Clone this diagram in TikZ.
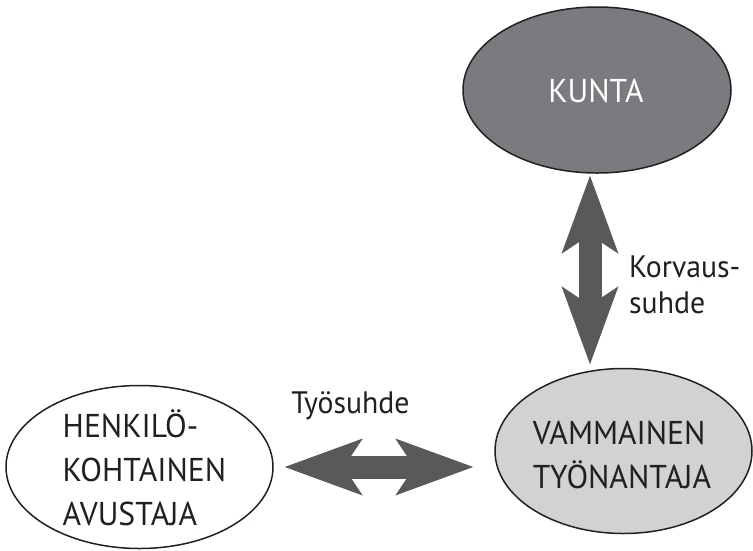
\documentclass[tikz,border=0pt]{standalone}
\usepackage{fontspec}
\setmainfont{PT Sans}[FakeStretch=0.96]
\usetikzlibrary{arrows.meta,shapes.geometric}
\definecolor{kuntafill}{RGB}{122,123,126}
\definecolor{vammfill}{RGB}{209,210,212}
\definecolor{arrowcol}{RGB}{88,89,91}
\definecolor{textcol}{RGB}{35,31,32}
\tikzset{
  oval/.style={ellipse, draw=textcol, line width=1.5pt, inner sep=0pt},
  bigtxt/.style={text=textcol, font=\fontsize{33}{44}\selectfont, align=left, inner sep=0pt},
  lbltxt/.style={text=textcol, font=\fontsize{31}{36}\selectfont, align=left, inner sep=0pt},
  bigarrow/.style={draw=arrowcol, line width=23pt,
    {Stealth[length=78pt,width=57pt,inset=19pt,line width=0pt,fill=arrowcol]}-{Stealth[length=78pt,width=57pt,inset=19pt,line width=0pt,fill=arrowcol]}}
}
\begin{document}
\begin{tikzpicture}[x=1pt,y=-1pt]
\useasboundingbox (0,0) rectangle (753,550);
\node[oval, fill=kuntafill, minimum width=268pt, minimum height=166pt] (kunta) at (597,90) {};
\node[bigtxt, text=white] (kuntatxt) at (596,91) {KUNTA};
\node[oval, fill=white, minimum width=267pt, minimum height=163pt] (avustaja) at (139.5,467) {};
\node[bigtxt] (avtxt) at (144.5,467.5) {HENKILÖ-\\KOHTAINEN\\AVUSTAJA};
\node[oval, fill=vammfill, minimum width=257pt, minimum height=165pt] (vamm) at (623.5,451) {};
\node[bigtxt] (vammtxt) at (622,454.5) {VAMMAINEN\\TYÖNANTAJA};
\coordinate (vtop) at ([xshift=-7pt,yshift=-2pt]kunta.south);
\coordinate (vbot) at ([yshift=3.5pt]vamm.north -| vtop);
\draw[bigarrow] (vtop) -- (vbot);
\draw[bigarrow] ([xshift=11pt]avustaja.east) -- ([xshift=-21pt]vamm.west |- avustaja.east);
\node[lbltxt, anchor=west] (korv) at (629,285) {Korvaus-\\suhde};
\node[lbltxt] (tyo) at (350.5,406) {Työsuhde};
\end{tikzpicture}
\end{document}
